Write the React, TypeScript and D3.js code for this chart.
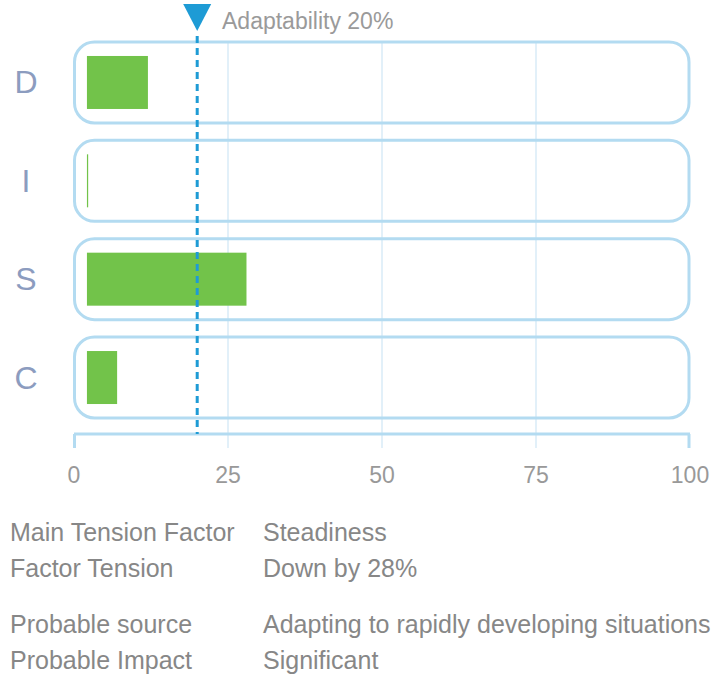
import React from "react";
import * as d3 from "d3";

const categories = ["D", "I", "S", "C"];
const barValues = [12, 2.3, 28, 7];
const barStart = 2.1;
const xTicks = [0, 25, 50, 75, 100];
const gridTicks = [25, 50, 75];
const markerValue = 20;
const markerLabel = "Adaptability 20%";
const infoRows = [
  ["Main Tension Factor", "Steadiness"],
  ["Factor Tension", "Down by 28%"],
  ["Probable source", "Adapting to rapidly developing situations."],
  ["Probable Impact", "Significant"],
];
const infoBaselines = [541, 577, 633, 669];

const W = 712;
const H = 676;
const FONT = "'Liberation Sans', Arial, sans-serif";

export default function App() {
  const x = d3.scaleLinear().domain([0, 100]).range([74, 690]);
  const y = d3
    .scaleBand<string>()
    .domain(categories)
    .range([42, 418])
    .paddingInner(0.177)
    .paddingOuter(0);
  const bw = y.bandwidth();
  const barH = 53;
  const axisY = 434;
  const tickBottom = 448;
  const mx = x(markerValue);

  return (
    <div style={{ position: "absolute", left: 0, top: 0 }}>
      <svg width={W} height={H} style={{ display: "block" }}>
        <rect width={W} height={H} fill="#ffffff" />
        {gridTicks.map((t) => (
          <line
            key={"g" + t}
            x1={x(t)}
            x2={x(t)}
            y1={42}
            y2={tickBottom}
            stroke="#e2f0f9"
            strokeWidth={2}
          />
        ))}
        {categories.map((c) => (
          <rect
            key={"b" + c}
            x={x(0) + 0.5}
            y={y(c)!}
            width={x(100) - x(0) - 1.5}
            height={bw}
            rx={20}
            ry={20}
            fill="none"
            stroke="#b3dbf1"
            strokeWidth={3}
          />
        ))}
        {categories.map((c, i) => (
          <rect
            key={"r" + c}
            x={x(barStart)}
            y={y(c)! + (bw - barH) / 2}
            width={Math.max(1, x(barValues[i]) - x(barStart))}
            height={barH}
            fill="#72c34a"
          />
        ))}
        {categories.map((c) => (
          <text
            key={"l" + c}
            x={26}
            y={y(c)! + bw / 2 + 11}
            textAnchor="middle"
            fontFamily={FONT}
            fontSize={32}
            fill="#8c9cbf"
          >
            {c}
          </text>
        ))}
        <line x1={x(0)} x2={x(100)} y1={axisY} y2={axisY} stroke="#b3dbf1" strokeWidth={3} />
        {[0, 100].map((t) => (
          <line
            key={"t" + t}
            x1={x(t) + (t === 0 ? 0.5 : -1)}
            x2={x(t) + (t === 0 ? 0.5 : -1)}
            y1={axisY}
            y2={tickBottom}
            stroke="#b3dbf1"
            strokeWidth={3}
          />
        ))}
        {xTicks.map((t) => (
          <text
            key={"tl" + t}
            x={x(t)}
            y={483}
            textAnchor="middle"
            fontFamily={FONT}
            fontSize={23}
            fill="#999999"
          >
            {t}
          </text>
        ))}
        <line
          x1={mx}
          x2={mx}
          y1={36}
          y2={axisY}
          stroke="#1e9bd5"
          strokeWidth={3}
          strokeDasharray="7,5"
        />
        <path d={`M${mx - 14},4 L${mx + 14},4 L${mx},31 Z`} fill="#1e9bd5" />
        <text x={222} y={29} fontFamily={FONT} fontSize={23} fill="#9a9a9a">
          {markerLabel}
        </text>
        {infoRows.map((row, i) => (
          <g key={"info" + i}>
            <text x={10} y={infoBaselines[i]} fontFamily={FONT} fontSize={25} fill="#878787">
              {row[0]}
            </text>
            <text x={263} y={infoBaselines[i]} fontFamily={FONT} fontSize={25} fill="#878787">
              {row[1]}
            </text>
          </g>
        ))}
      </svg>
    </div>
  );
}
